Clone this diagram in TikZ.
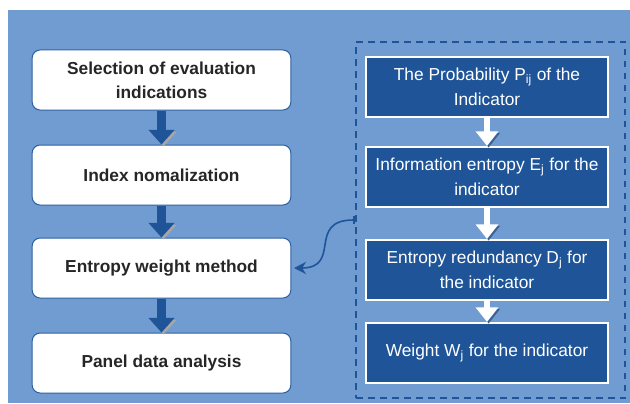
\documentclass[tikz,border=0pt]{standalone}
\usepackage{fontspec}
\setmainfont{Liberation Sans}
\usetikzlibrary{arrows.meta}

\definecolor{bgblue}{RGB}{112,156,210}
\definecolor{boxblue}{RGB}{31,85,152}
\definecolor{edgeblue}{RGB}{44,95,160}

\tikzset{every picture/.style={line width=0.75pt}}
\tikzset{
	stagebox/.style={draw=edgeblue, fill=white, rounded corners=6pt, minimum width=194pt, minimum height=45pt, align=center, text=black!85, font=\fontsize{13}{18}\selectfont\bfseries},
	calcbox/.style={draw=white, line width=1.5pt, fill=boxblue, minimum width=181pt, minimum height=45pt, inner xsep=1pt, align=center, text=white, font=\fontsize{13}{19}\selectfont},
	groupbox/.style={draw=boxblue, line width=1.8pt, dash pattern=on 5pt off 4pt, minimum width=202pt, minimum height=267pt},
	bluearrow/.style={draw=boxblue, line width=6.5pt, -{Triangle[width=19pt,length=11pt]}, preaction={draw=gray!70, -{Triangle[width=19pt,length=11pt]}, transform canvas={shift={(1.5pt,-1.5pt)}}}},
	whitearrow/.style={draw=white, line width=5pt, -{Triangle[width=16.5pt,length=11pt]}, preaction={draw=boxblue!70!gray, -{Triangle[width=16.5pt,length=11pt]}, transform canvas={shift={(1.2pt,-1.2pt)}}}},
	linkarrow/.style={draw=boxblue, line width=1.2pt, {Bar[width=6pt]}-{Stealth[length=9pt,width=9pt]}}
}

\begin{document}
\begin{tikzpicture}[x=0.75pt,y=0.75pt,yscale=-1,xscale=1]
	\useasboundingbox (0,0) rectangle (630,403);
	%Background
	\fill [bgblue] (8,10) rectangle (630,403);

	%Dashed group
	\node [groupbox] (grp) at (490.5,220) {};

	% Left column
	\node [stagebox] (s1) at (161.5,80) {Selection of evaluation\\indications};
	\node [stagebox] (s2) at (161.5,175) {Index nomalization};
	\node [stagebox] (s3) at (161.5,268) {Entropy weight method};
	\node [stagebox] (s4) at (161.5,363) {Panel data analysis};

	% Right column
	\node [calcbox] (c1) at (487,87) {The Probability P\textsubscript{ij} of the\\Indicator};
	\node [calcbox] (c2) at (487,177) {Information entropy E\textsubscript{j} for the\\indicator};
	\node [calcbox] (c3) at (487,270) {Entropy redundancy D\textsubscript{j} for\\the indicator};
	\node [calcbox] (c4) at (487,353) {Weight W\textsubscript{j} for the indicator};

	% Arrows
	\draw [bluearrow] (s1) -- (s2);
	\draw [bluearrow] (s2) -- (s3);
	\draw [bluearrow] (s3) -- (s4);
	\draw [whitearrow] (c1) -- (c2);
	\draw [whitearrow] (c2) -- (c3);
	\draw [whitearrow] (c3) -- (c4);
	\draw [linkarrow] (grp.west) to[out=180,in=0,looseness=1.6] ([xshift=2pt]s3.east);

\end{tikzpicture}
\end{document}
